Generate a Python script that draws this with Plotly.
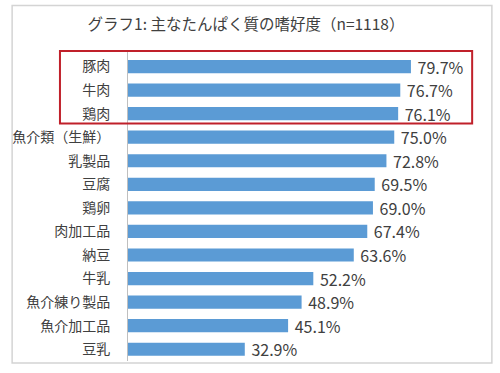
import plotly.graph_objects as go

categories = ["豚肉", "牛肉", "鶏肉", "魚介類（生鮮）", "乳製品", "豆腐", "鶏卵",
              "肉加工品", "納豆", "牛乳", "魚介練り製品", "魚介加工品", "豆乳"]
values = [79.7, 76.7, 76.1, 75.0, 72.8, 69.5, 69.0, 67.4, 63.6, 52.2, 48.9, 45.1, 32.9]
labels = [f"{v:.1f}%" for v in values]
title_text = "グラフ1: 主なたんぱく質の嗜好度（n=1118）"

FONT = "Meiryo, 'Noto Sans CJK JP', sans-serif"

fig = go.Figure(go.Bar(
    x=values, y=categories, orientation="h",
    marker=dict(color="#5b9bd5", line=dict(width=0)),
    text=labels, texttemplate=" %{text}", textposition="outside", cliponaxis=False,
    constraintext="none",
    textfont=dict(size=16, color="#404040", family=FONT),
))

W, H = 500, 373
L, R, T, B = 123, 17, 50, 12
pw, ph = W - L - R, H - T - B

def px(x):
    return (x - L) / pw

def py(y):
    return (H - B - y) / ph

fig.update_layout(
    width=W, height=H,
    margin=dict(l=L, r=R, t=T, b=B),
    paper_bgcolor="white", plot_bgcolor="white",
    bargap=0.44,
    showlegend=False,
    title=dict(text=title_text, x=246 / W, xref="container", xanchor="center",
               y=1 - 25 / H, yref="container", yanchor="middle",
               font=dict(size=15.5, color="#404040", family=FONT)),
    xaxis=dict(range=[0, 100], visible=False, showgrid=False, zeroline=False),
    yaxis=dict(autorange="reversed", showline=True, linecolor="#bfbfbf", linewidth=1,
               ticks="", showgrid=False, ticklabelstandoff=14,
               tickfont=dict(size=14, color="#404040", family=FONT)),
    shapes=[
        dict(type="rect", xref="paper", yref="paper",
             x0=px(5.5), x1=px(492), y0=py(5.5), y1=py(363),
             line=dict(color="#d4d4d4", width=1.5), layer="below"),
        dict(type="rect", xref="paper", yref="y",
             x0=px(54), x1=px(472), y0=-0.66, y1=2.42,
             line=dict(color="#c0202a", width=2)),
    ],
)

fig.write_html("out.html", config={"displayModeBar": False},
               post_script="document.body.style.margin='0';document.body.style.padding='0';document.body.style.overflow='hidden';")
